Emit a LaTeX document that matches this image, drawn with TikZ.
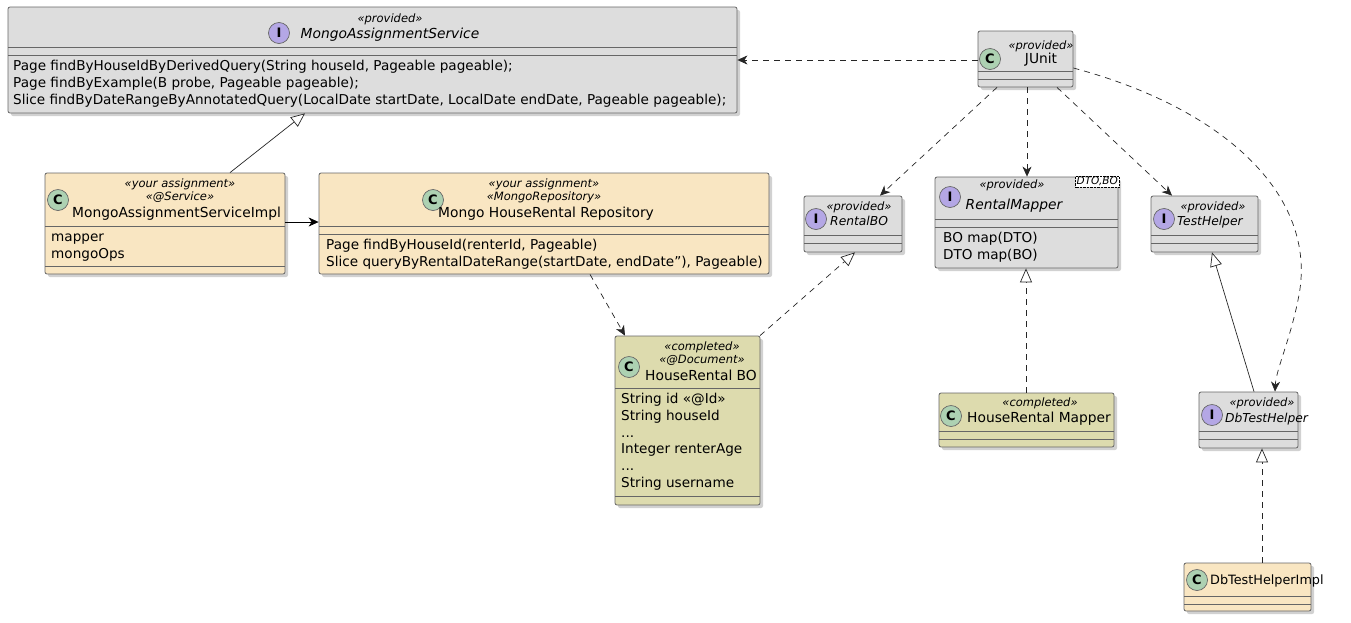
\documentclass[tikz,border=0pt]{standalone}
\usepackage{fontspec}
\setmainfont{DejaVu Sans}
\usetikzlibrary{shadows,arrows.meta}
\definecolor{gr}{HTML}{DDDDDD}
\definecolor{asg}{HTML}{F9E6C2}
\definecolor{cmp}{HTML}{DDDBAE}
\definecolor{cc}{HTML}{ADD1B2}
\definecolor{ic}{HTML}{B4A7E5}
\definecolor{bd}{HTML}{666666}
\tikzset{
  box/.style={draw=bd, rounded corners=2pt, inner sep=0pt, line width=0.8pt,
    drop shadow={shadow xshift=3pt, shadow yshift=-3pt, fill=black!30, opacity=0.6}},
  ico/.style={circle, draw=bd, line width=0.7pt, minimum size=21pt, inner sep=0pt, font=\bfseries\fontsize{13}{13}\selectfont},
  st/.style={font=\itshape\fontsize{11.5}{13}\selectfont, inner sep=0pt, text height=9pt, text depth=3pt},
  nm/.style={font=\fontsize{13.8}{17}\selectfont, inner sep=0pt, text height=11pt, text depth=3pt},
  nmi/.style={font=\itshape\fontsize{13.8}{17}\selectfont, inner sep=0pt, text height=11pt, text depth=3pt},
  sm/.style={anchor=west, font=\fontsize{12.8}{15}\selectfont},
  smi/.style={anchor=west, font=\itshape\fontsize{12.3}{15}\selectfont},
  tx/.style={font=\fontsize{13.6}{17}\selectfont, inner sep=0pt, anchor=west, text height=10pt, text depth=3pt},
  tip/.style={-{Stealth[length=10pt,width=9pt,inset=3pt]}},
  dep/.style={dash pattern=on 6pt off 5pt, tip, line width=0.7pt, draw=black!85},
  ext/.style={line width=0.7pt, draw=black!85, -{Triangle[open,length=14pt,width=12pt,fill=white]}},
  real/.style={ext, dash pattern=on 6pt off 5pt},
  assoc/.style={line width=0.7pt, tip}
}
\newcommand{\umlbox}[8]{% name x1 y1 x2 y2 fill sep1 sep2
  \pgfmathsetmacro{\cxx}{(#2+#4)/2}\pgfmathsetmacro{\cyy}{(#3+#5)/2}
  \pgfmathsetmacro{\ww}{#4-#2}\pgfmathsetmacro{\hh}{#5-#3}
  \node[box, fill=#6, minimum width=\ww pt, minimum height=\hh pt] (#1) at (\cxx,\cyy) {};
  \draw[bd, line width=0.7pt] (#2,#7) -- (#4,#7);
  \draw[bd, line width=0.7pt] (#2,#8) -- (#4,#8);
}
\begin{document}
\begin{tikzpicture}[x=1pt,y=-1pt]
\useasboundingbox (0,0) rectangle (1351,622);
% boxes
\umlbox{svc}{8}{7}{737}{113}{gr}{47}{55}
\node[ico, fill=ic] at (279,33) {I};
\node[st] at (390,19) {«provided»};
\node[nmi] at (390,34) {MongoAssignmentService};
\node[tx] at (13,67) {Page findByHouseIdByDerivedQuery(String houseId, Pageable pageable);};
\node[tx] at (13,84) {Page findByExample(B probe, Pageable pageable);};
\node[tx] at (13,101) {Slice findByDateRangeByAnnotatedQuery(LocalDate startDate, LocalDate endDate, Pageable pageable);};

\umlbox{impl}{45}{173}{285}{274}{asg}{226}{266}
\node[ico, fill=cc] at (58,200) {C};
\node[st] at (180,184) {«your assignment»};
\node[st] at (180,197) {«@Service»};
\node[nm, anchor=west] at (72,213) {MongoAssignmentServiceImpl};
\node[tx] at (51,238) {mapper};
\node[tx] at (51,255) {mongoOps};

\umlbox{repo}{319}{173}{769}{274}{asg}{226}{234}
\node[ico, fill=cc] at (433,200) {C};
\node[st] at (544,184) {«your assignment»};
\node[st] at (544,197) {«MongoRepository»};
\node[nm] at (546,213) {Mongo HouseRental Repository};
\node[tx] at (326,246) {Page findByHouseId(renterId, Pageable)};
\node[tx] at (326,263) {Slice queryByRentalDateRange(startDate, endDate"), Pageable)};

\umlbox{junit}{978}{31}{1073}{87}{gr}{71}{79}
\node[ico, fill=cc] at (990,59) {C};
\node[st] at (1041,46) {«provided»};
\node[nm] at (1041,59) {JUnit};

\umlbox{rbo}{804}{196}{902}{252}{gr}{235}{243}
\node[ico, fill=ic] at (816,219) {I};
\node[st] at (859,207) {«provided»};
\node[nmi, smi] at (830,221) {RentalBO};

\umlbox{rmap}{935}{177}{1118}{268}{gr}{219}{227}
\node[ico, fill=ic] at (950,197) {I};
\node[st] at (1012,185) {«provided»};
\node[nmi] at (1014,205) {RentalMapper};
\node[tx] at (943,239) {BO map(DTO)};
\node[tx] at (943,256) {DTO map(BO)};
\node[draw, densely dotted, fill=white, inner sep=1pt, font=\itshape\fontsize{10.5}{11}\selectfont, anchor=north east] (tpl) at (1119,176) {DTO,BO};

\umlbox{th}{1151}{196}{1258}{252}{gr}{235}{243}
\node[ico, fill=ic] at (1164,219) {I};
\node[st] at (1213,207) {«provided»};
\node[nmi, smi] at (1177,221) {TestHelper};

\umlbox{hbo}{615}{336}{760}{505}{cmp}{388}{496}
\node[ico, fill=cc] at (629,367) {C};
\node[st] at (702,347) {«completed»};
\node[st] at (702,360) {«@Document»};
\node[nm] at (701,376) {HouseRental BO};
\node[tx] at (621,400) {String id «@Id»};
\node[tx] at (621,417) {String houseId};
\node[tx] at (621,434) {...};
\node[tx] at (621,450) {Integer renterAge};
\node[tx] at (621,467) {...};
\node[tx] at (621,484) {String username};

\umlbox{hmap}{939}{393}{1114}{447}{cmp}{431}{439}
\node[ico, fill=cc] at (951,416) {C};
\node[st] at (1040,403) {«completed»};
\node[nm] at (1039,418) {HouseRental Mapper};

\umlbox{dbt}{1199}{392}{1298}{448}{gr}{431}{439}
\node[ico, fill=ic] at (1212,415) {I};
\node[st] at (1262,403) {«provided»};
\node[nmi, smi] at (1225,418) {DbTestHelper};

\umlbox{dbi}{1184}{563}{1311}{611}{asg}{596}{604}
\node[ico, fill=cc] at (1197,580) {C};
\node[nm, sm] at (1210,580) {DbTestHelperImpl};

% edges
\draw[dep] (junit.west |- 0,60) -- (svc.east |- 0,60);
\draw[ext] (impl.north -| 230,0) -- (svc.south -| 305,0);
\draw[assoc] (impl.east |- 0,222) -- (repo.west |- 0,222);
\draw[dep] (repo.south -| 590,0) -- (hbo.north -| 625,0);
\draw[real] (hbo.north -| 760,0) -- (rbo.south -| 855,0);
\draw[dep] (junit.south -| 997,0) -- (rbo.north -| 880,0);
\draw[dep] (junit.south -| 1027,0) -- (rmap.north -| 1027,0);
\draw[dep] (junit.south -| 1057,0) -- (th.north -| 1172,0);
\draw[dep] (junit.east |- 0,68) .. controls (1230,110) and (1320,200) .. (1298,300) .. controls (1290,340) and (1276,370) .. (dbt.north -| 1275,0);
\draw[real] (hmap.north -| 1026,0) -- (rmap.south -| 1026,0);
\draw[ext] (dbt.north -| 1254,0) -- (th.south -| 1212,0);
\draw[real] (dbi.north -| 1262,0) -- (dbt.south -| 1262,0);
\end{tikzpicture}
\end{document}
